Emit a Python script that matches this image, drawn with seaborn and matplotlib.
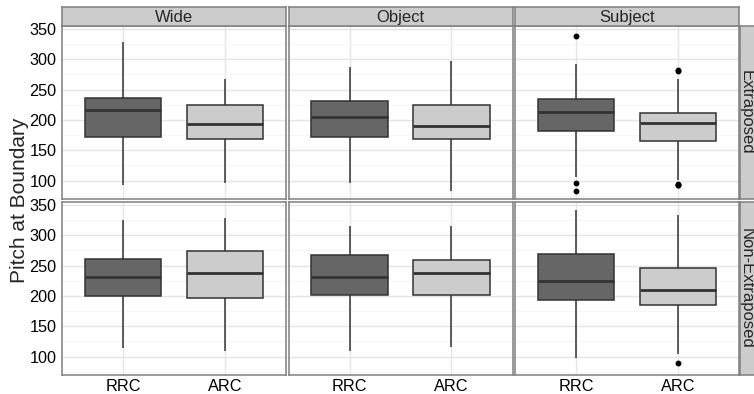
import pandas as pd
import seaborn as sns
import matplotlib.pyplot as plt
from matplotlib.ticker import MultipleLocator

# facets and categories
groups = ["Wide", "Object", "Subject"]
positions = ["Extraposed", "Non-Extraposed"]
clauses = ["RRC", "ARC"]

# box summaries
# order: Extraposed (Wide RRC, Wide ARC, Object RRC, Object ARC, Subject RRC, Subject ARC),
#        then Non-Extraposed in the same order
box_position = ["Extraposed"] * 6 + ["Non-Extraposed"] * 6
box_group = ["Wide", "Wide", "Object", "Object", "Subject", "Subject"] * 2
box_clause = ["RRC", "ARC"] * 6
whisker_low = [93, 95.5, 95.5, 83, 105.5, 101, 114.4, 109, 109, 116, 98, 103.4]
q1 = [172, 169, 172, 168, 182.4, 166, 199.8, 196.4, 201.4, 201.4, 193, 184.2]
median = [217, 193, 204.5, 190.7, 213, 195.7, 230.8, 237.5, 232, 238.6, 225.3, 209]
q3 = [235.5, 225, 230.5, 225, 235, 210.6, 261.3, 273.5, 267, 260, 269.6, 245.8]
whisker_high = [329, 267.5, 288, 297.4, 292.4, 267.5, 325, 329, 315, 315, 341.7, 333.4]
outliers = [[], [], [], [], [82, 96, 339], [92, 93, 95, 281, 283],
            [], [], [], [], [], [89]]

colors = {"RRC": "#666666", "ARC": "#CCCCCC"}


def sample_for(lo, a, m, b, hi, out):
    # values whose quartiles / whiskers / outliers match the summary
    low = sorted(v for v in out if v < a)
    high = sorted(v for v in out if v > b)
    k = max(len(low), len(high)) + 1
    return (low + [lo] * (k - len(low)) + [a] * k + [m] * k + [b]
            + [hi] * (k - len(high)) + high)


rows = []
for i in range(len(q1)):
    vals = sample_for(whisker_low[i], q1[i], median[i], q3[i], whisker_high[i], outliers[i])
    for v in vals:
        rows.append({"Position": box_position[i], "Group": box_group[i],
                     "Clause": box_clause[i], "Pitch": v})
df = pd.DataFrame(rows)

sns.set_style("white")
plt.rcParams["font.family"] = ["Liberation Sans", "DejaVu Sans"]

W, H = 754, 394
fig = plt.figure(figsize=(W / 100, H / 100), dpi=100)

col_x = [62, 288.5, 515]
row_y = [26, 202]
pw, ph = 224, 173
border = "#7F7F7F"

for r, pos in enumerate(positions):
    for c, grp in enumerate(groups):
        x0, y0 = col_x[c], row_y[r]
        ax = fig.add_axes([x0 / W, 1 - (y0 + ph) / H, pw / W, ph / H])
        sub = df[(df["Position"] == pos) & (df["Group"] == grp)]
        sns.boxplot(data=sub, x="Clause", y="Pitch", hue="Clause", order=clauses,
                    hue_order=clauses, palette=colors, dodge=False, width=0.75,
                    linecolor="#333333", linewidth=1.1, showcaps=False,
                    medianprops={"linewidth": 2},
                    flierprops={"marker": "o", "markerfacecolor": "black",
                                "markeredgecolor": "black", "markersize": 3.2},
                    legend=False, ax=ax)
        ax.set_xlim(-0.6, 1.6)
        ax.set_ylim(69.5, 355)
        ax.set_xlabel("")
        ax.set_ylabel("")
        ax.yaxis.set_major_locator(MultipleLocator(50))
        ax.yaxis.set_minor_locator(MultipleLocator(25))
        ax.set_axisbelow(True)
        ax.grid(True, which="major", color="#E5E5E5", linewidth=1.0)
        ax.grid(True, which="minor", axis="y", color="#F5F5F5", linewidth=0.8)
        for s in ax.spines.values():
            s.set_color(border)
            s.set_linewidth(1.1)
        ax.tick_params(axis="both", which="major", length=2.4, width=0.8,
                       color="#333333", labelsize=11.7, labelcolor="black", pad=1.6)
        ax.tick_params(axis="x", which="major", pad=0.3)
        ax.tick_params(axis="both", which="minor", length=0)
        if c > 0:
            ax.tick_params(axis="y", which="major", length=0, labelleft=False)
        if r == 0:
            ax.tick_params(axis="x", which="major", length=0, labelbottom=False)

        # column strip on top
        if r == 0:
            sx = fig.add_axes([x0 / W, 1 - 26 / H, pw / W, 19 / H])
            sx.set_facecolor("#CCCCCC")
            sx.set_xticks([])
            sx.set_yticks([])
            for s in sx.spines.values():
                s.set_color(border)
                s.set_linewidth(1.1)
            sx.text(0.5, 0.45, grp, ha="center", va="center", fontsize=12,
                    transform=sx.transAxes)

    # row strip on the right
    y0 = row_y[r]
    rx = fig.add_axes([740 / W, 1 - (y0 + ph) / H, 16 / W, ph / H])
    rx.set_facecolor("#CCCCCC")
    rx.set_xticks([])
    rx.set_yticks([])
    for s in rx.spines.values():
        s.set_color(border)
        s.set_linewidth(1.1)
    fig.text(746 / W, 1 - (y0 + ph / 2) / H, pos, rotation=-90, ha="center",
             va="center", fontsize=12)

fig.text(20 / W, 1 - 200 / H, "Pitch at Boundary", rotation=90, ha="center",
         va="center", fontsize=15)

plt.savefig("out.png", dpi=100)
